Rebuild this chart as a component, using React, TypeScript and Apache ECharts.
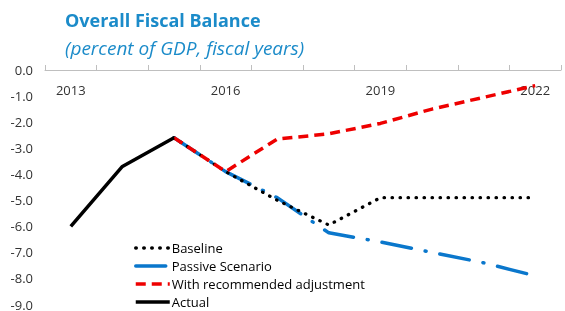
import React, { useEffect, useRef } from "react";
import * as echarts from "echarts";

const years = ["2013", "2014", "2015", "2016", "2017", "2018", "2019", "2020", "2021", "2022"];
const baseline = [null, null, -2.6, -3.9, -5.0, -5.95, -4.9, -4.9, -4.9, -4.9];
const passive = [null, null, -2.6, -3.9, -4.9, -6.25, -6.6, -7.0, -7.4, -7.9];
const adjusted = [null, null, -2.6, -3.9, -2.65, -2.45, -2.05, -1.5, -1.05, -0.6];
const actual = [-6.0, -3.7, -2.6, null, null, null, null, null, null, null];
const legendNames = ["Baseline", "Passive Scenario", "With recommended adjustment", "Actual"];

const FONT = "'Open Sans', 'Noto Sans', sans-serif";

export default function App() {
  const ref = useRef<HTMLDivElement>(null);
  useEffect(() => {
    const chart = echarts.init(ref.current!, null, { renderer: "svg" });
    const legends = legendNames.map((name, i) => ({
      orient: "vertical",
      left: 134,
      top: 241 + i * 18,
      padding: 0,
      itemWidth: 34,
      itemHeight: 10,
      itemStyle: { opacity: 0 },
      lineStyle: { width: 3.5 },
      textStyle: { fontFamily: FONT, fontSize: 13, lineHeight: 14, color: "#000", padding: [0, 0, 0, -3] },
      data: [name],
    }));
    chart.setOption({
      animation: false,
      textStyle: { fontFamily: FONT },
      title: [
        {
          text: "Overall Fiscal Balance",
          left: 60,
          top: 6,
          textStyle: { fontFamily: FONT, fontWeight: "bold", fontSize: 18, color: "#1B8BC9" },
        },
        {
          text: "(percent of GDP, fiscal years)",
          left: 60,
          top: 33,
          textStyle: { fontFamily: FONT, fontStyle: "italic", fontWeight: "normal", fontSize: 19, color: "#1B8BC9" },
        },
      ],
      grid: { left: 45, right: 4, top: 70, bottom: 5, containLabel: false },
      legend: legends,
      xAxis: {
        type: "category",
        data: years,
        position: "top",
        boundaryGap: true,
        axisLine: { show: true, lineStyle: { color: "#BFBFBF", width: 1 } },
        axisTick: { show: true, interval: 0, length: 5, lineStyle: { color: "#BFBFBF" } },
        axisLabel: { inside: true, interval: 2, margin: 13, fontSize: 13, color: "#333", fontFamily: FONT },
        splitLine: { show: false },
      },
      yAxis: {
        type: "value",
        min: -9,
        max: 0,
        interval: 1,
        axisLine: { show: false },
        axisTick: { show: false },
        splitLine: { show: false },
        axisLabel: {
          fontSize: 13,
          color: "#333",
          margin: 12,
          fontFamily: FONT,
          formatter: (v: number) => v.toFixed(1),
        },
      },
      series: [
        {
          name: "Baseline",
          type: "line",
          data: baseline,
          z: 3,
          symbol: "none",
          lineStyle: { color: "#000", width: 3.2, type: [0.5, 7.5], cap: "round" },
        },
        {
          name: "Passive Scenario",
          type: "line",
          data: passive,
          z: 2,
          symbol: "none",
          lineStyle: { color: "#0A77CC", width: 3.5, type: [30, 14, 1, 14], cap: "round" },
        },
        {
          name: "With recommended adjustment",
          type: "line",
          data: adjusted,
          z: 4,
          symbol: "none",
          lineStyle: { color: "#EE0000", width: 3.5, type: [10, 6] },
        },
        {
          name: "Actual",
          type: "line",
          data: actual,
          z: 5,
          symbol: "none",
          lineStyle: { color: "#000", width: 3.5 },
        },
      ],
    });
    return () => chart.dispose();
  }, []);
  return (
    <div
      ref={ref}
      style={{ position: "fixed", left: 0, top: 0, width: 565, height: 311, overflow: "visible" }}
    />
  );
}
